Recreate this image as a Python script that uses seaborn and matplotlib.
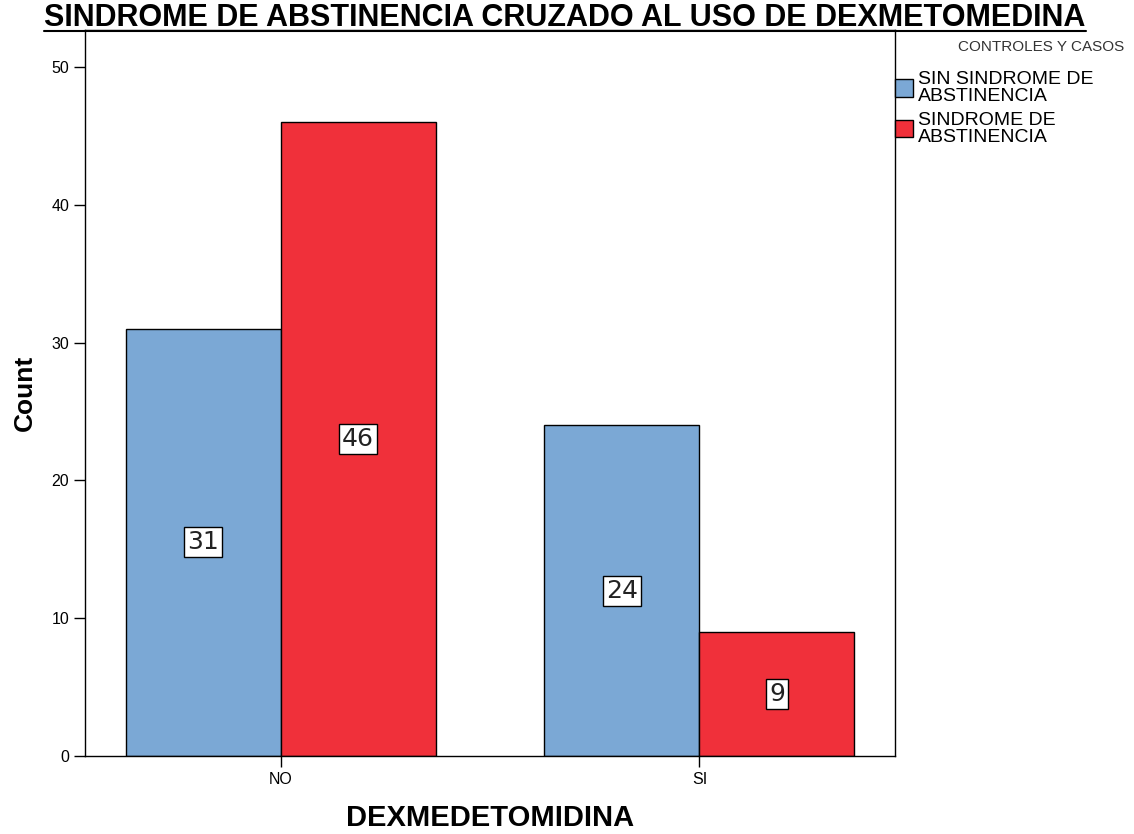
import pandas as pd
import matplotlib.pyplot as plt
import seaborn as sns
from matplotlib.lines import Line2D

# Datos del grafico
categorias = ['NO', 'SI']
grupos = ['SIN SINDROME DE\nABSTINENCIA', 'SINDROME DE\nABSTINENCIA']
sin_sindrome = [31, 24]
con_sindrome = [46, 9]
colores = ['#7BA8D5', '#F0303A']

df = pd.DataFrame({
    'DEXMEDETOMIDINA': categorias * 2,
    'grupo': [grupos[0]] * 2 + [grupos[1]] * 2,
    'Count': sin_sindrome + con_sindrome,
})

sns.set_style('white')
plt.rcParams['font.family'] = ['Liberation Sans', 'DejaVu Sans']
plt.rcParams['text.color'] = 'black'
plt.rcParams['axes.labelcolor'] = 'black'
plt.rcParams['xtick.color'] = 'black'
plt.rcParams['ytick.color'] = 'black'

fig = plt.figure(figsize=(11.34, 8.34), dpi=100)
ax = fig.add_axes([85 / 1134, 78 / 834, 810 / 1134, 726 / 834])

sns.barplot(data=df, x='DEXMEDETOMIDINA', y='Count', hue='grupo',
            palette=colores, width=0.74, edgecolor='black', linewidth=1,
            saturation=1, ax=ax)

ax.set_xlim(-0.467, 1.467)
ax.set_ylim(0, 52.7)
ax.set_yticks([0, 10, 20, 30, 40, 50])

for s in ax.spines.values():
    s.set_visible(True)
    s.set_color('black')
    s.set_linewidth(1)

ax.tick_params(axis='both', direction='out', length=8, width=1, color='black',
               labelsize=11.5, left=True, bottom=True)

ax.set_xlabel('DEXMEDETOMIDINA', fontsize=21, fontweight='bold', labelpad=12)
ax.set_ylabel('Count', fontsize=19, fontweight='bold', labelpad=10)

# Etiquetas en el centro de cada barra
for cont in ax.containers:
    ax.bar_label(cont, label_type='center', fontsize=18, color='#222222',
                 family=['DejaVu Sans'],
                 bbox=dict(boxstyle='square,pad=0.12', fc='white', ec='black', lw=1))

# Leyenda fuera del area de graficos
handles, labels = ax.get_legend_handles_labels()
ax.get_legend().remove()
leg = fig.legend(handles, labels, loc='upper left',
                 bbox_to_anchor=(895 / 1134, (834 - 71) / 834),
                 frameon=False, fontsize=14, handlelength=0.95, handleheight=1.0,
                 handletextpad=0.25, labelspacing=0.35, borderpad=0, borderaxespad=0)
for t in leg.get_texts():
    t.set_linespacing(1.0)
fig.text(1124 / 1134, (834 - 47) / 834, 'CONTROLES Y CASOS', ha='right',
         va='center', fontsize=11, color='#333333')

# Titulo subrayado
titulo = fig.text(565 / 1134, (834 - 18) / 834,
                  'SINDROME DE ABSTINENCIA CRUZADO AL USO DE DEXMETOMEDINA',
                  ha='center', va='center', fontsize=22, fontweight='bold')
fig.canvas.draw()
bb = titulo.get_window_extent().transformed(fig.transFigure.inverted())
fig.add_artist(Line2D([bb.x0, bb.x1], [bb.y0 + 0.002, bb.y0 + 0.002],
                      transform=fig.transFigure, color='black', lw=1.5))

fig.savefig('out.png', dpi=100)
